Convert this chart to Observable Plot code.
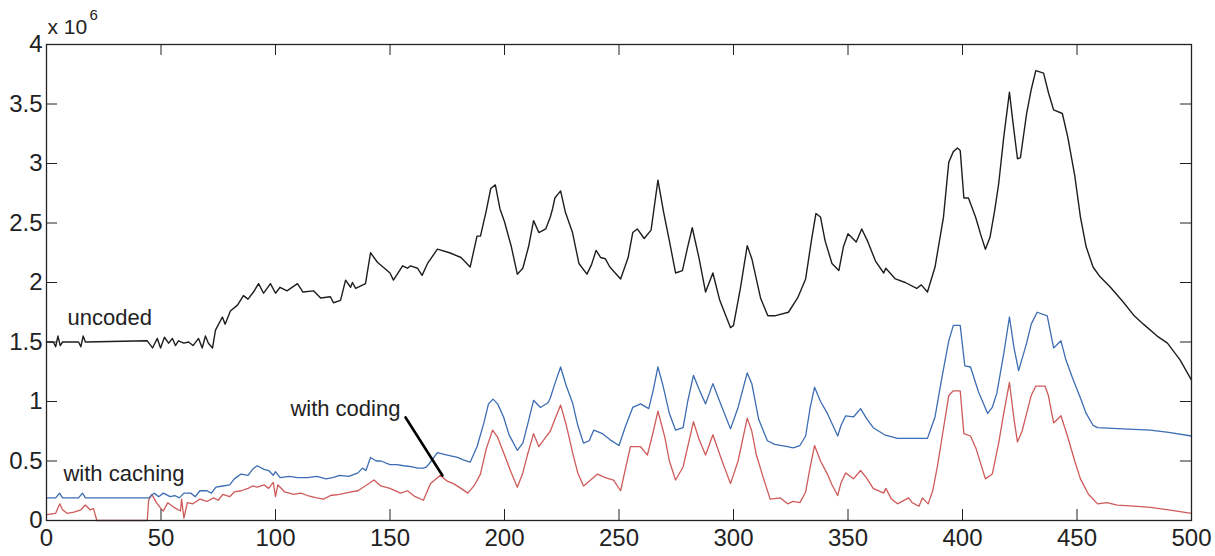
<!DOCTYPE html>
<html>
<head>
<meta charset="utf-8">
<script src="https://cdn.jsdelivr.net/npm/d3@7"></script>
<script src="https://cdn.jsdelivr.net/npm/@observablehq/plot@0.6"></script>
<style>
  html, body { margin: 0; padding: 0; background: #fff; }
  #chart svg { display: block; font-family: "Liberation Sans", Arial, Helvetica, sans-serif; }
</style>
</head>
<body>
<div id="chart"></div>
<script>
// ---------- data (values in units of 10^6) ----------
const xTicks = [0, 50, 100, 150, 200, 250, 300, 350, 400, 450, 500];
const yTicks = [0, 0.5, 1, 1.5, 2, 2.5, 3, 3.5, 4];

const uncodedX = [0,3,4,5,6,7,14,15,16,17,44,46.3,48.4,49.8,51.5,53.3,55,56.3,57.6,60,62,64,66.4,68,69.4,70.7,72.5,73.8,76.8,78,80.3,83.4,86,88,90.4,92.6,94.8,97.8,100,102,105,109.6,112,116.6,119.7,124,125.3,128.4,130.6,132.8,133.6,135,139.3,141.5,144.5,150,151.5,155.5,157.6,159,162,164,166.4,170.7,176,181,185,188,189.5,192,194,196,198,200,203,205.6,208,210.5,212.7,215,218,220,221,222,224.5,226.6,229.7,232.5,236,238,240,242,244,246,250.7,254,256,258,261,264,265.5,267,269.5,272,274.7,277.7,280,282,285,287.8,291,294,298.7,300,303,306,308,311.8,315,318,324,328,331.5,334,336,338,340,343,346,348,350,353.6,356,358.5,362,365.6,366.5,370.7,375,380,382,384.7,388,391.7,394,396,397.8,399,400.6,402.6,405.7,408,410,412,414,415.8,418,420.5,422,424,425.3,428,430,432,435.4,437.6,439.8,443.6,446,449,451.5,454,457,460,464.6,470,475,479,485,489.5,495,500];
const uncodedY = [1.5,1.5,1.46,1.55,1.47,1.5,1.5,1.46,1.55,1.5,1.51,1.45,1.53,1.45,1.54,1.49,1.53,1.47,1.51,1.49,1.5,1.47,1.53,1.45,1.55,1.49,1.45,1.6,1.71,1.65,1.76,1.81,1.89,1.86,1.92,1.99,1.91,1.99,1.91,1.96,1.93,1.99,1.92,1.93,1.87,1.88,1.83,1.85,2.02,1.96,2.0,1.95,1.99,2.25,2.17,2.08,2.02,2.14,2.12,2.14,2.12,2.06,2.16,2.28,2.25,2.21,2.13,2.39,2.39,2.6,2.79,2.82,2.62,2.51,2.3,2.07,2.12,2.3,2.52,2.42,2.45,2.55,2.62,2.71,2.77,2.59,2.42,2.16,2.07,2.15,2.27,2.21,2.2,2.13,2.03,2.21,2.42,2.45,2.37,2.44,2.65,2.86,2.59,2.35,2.08,2.1,2.3,2.46,2.2,1.92,2.08,1.85,1.62,1.64,1.95,2.31,2.2,1.87,1.72,1.72,1.75,1.87,2.03,2.35,2.58,2.55,2.35,2.16,2.1,2.3,2.41,2.34,2.45,2.35,2.18,2.08,2.12,2.03,2.0,1.95,1.98,1.92,2.13,2.55,3.01,3.1,3.13,3.11,2.71,2.71,2.55,2.4,2.28,2.38,2.6,2.83,3.22,3.6,3.35,3.04,3.05,3.42,3.62,3.78,3.76,3.59,3.45,3.42,3.22,2.9,2.55,2.3,2.13,2.05,1.96,1.84,1.72,1.65,1.55,1.49,1.35,1.18];

const cachingX = [0,4,5.7,7,14,15.7,17,44.6,47,49,51,54,56,58,60,63,65,67,70,72,74,77,80,82,85,88,90,92,95,97,99,100,102,106,109.6,114,118,122,125,128,132,136,138,139.5,141.5,144,146,150,153,156,160,162,164.6,166,168,170.7,175,179.5,182,185,188,191,193,195,197,199.6,202,205.6,208,210,212.7,215.7,219,220,222,224.5,227,229.7,232,234.5,237,239,242.8,246,250,253,256,259.4,263,265,267,269,272,274.7,278,280,282.5,285,287.8,291,295,298.7,302,306,308,311,314.8,318,323.6,326,329,331.5,333.5,335.4,338,341,345.5,347,349,352.4,355.5,358,361,366,371.6,378,384.7,388,391,394,396,399,401,403.5,407,411,413,415,418,420.5,422.5,424.5,428,430,432.6,437,439.8,443,445,448,451.5,454,457,459,470,482,490,500];
const cachingY = [0.19,0.19,0.23,0.19,0.19,0.23,0.19,0.19,0.23,0.2,0.23,0.2,0.21,0.19,0.23,0.23,0.2,0.25,0.25,0.23,0.28,0.29,0.3,0.35,0.39,0.38,0.43,0.46,0.43,0.42,0.38,0.41,0.36,0.37,0.36,0.36,0.37,0.35,0.36,0.38,0.37,0.4,0.44,0.42,0.53,0.5,0.5,0.47,0.47,0.46,0.45,0.44,0.44,0.45,0.5,0.57,0.55,0.53,0.51,0.49,0.62,0.82,0.98,1.02,0.98,0.87,0.72,0.59,0.65,0.8,1.01,0.95,0.99,1.03,1.15,1.29,1.13,0.99,0.8,0.65,0.67,0.76,0.73,0.68,0.63,0.8,0.95,0.98,0.94,1.1,1.29,1.15,0.9,0.76,0.78,1.0,1.22,1.1,0.98,1.15,0.95,0.77,0.95,1.24,1.15,0.85,0.67,0.64,0.62,0.61,0.63,0.71,0.95,1.12,1.0,0.9,0.71,0.8,0.88,0.87,0.94,0.86,0.78,0.72,0.69,0.69,0.69,0.87,1.2,1.51,1.64,1.64,1.3,1.29,1.08,0.9,0.95,1.07,1.4,1.71,1.45,1.26,1.49,1.65,1.75,1.72,1.45,1.51,1.36,1.2,1.03,0.9,0.8,0.78,0.77,0.76,0.74,0.71];

const codingX = [0,4,5.8,7,9,12,15,17,19,20.5,22,44,44.6,46,48,50,51,53,55.7,58.5,59,60,61.5,64,67,70,73,75,77,80,82,85,88,90,92,95,97,99,100,101,104,108,111,114,118,121,124,128,133,136,140,143,146,150,154.6,157.6,161,164.6,167.7,170.7,172,175,177.7,181,184,187,189.5,192,194.8,197,200,203,205.6,208,210,212.7,215,218,220,222,224.5,227,230,232,234.5,237,240.6,244,247.6,250.7,253,255,259.4,262.4,265,267,270,272,274.7,278,282.5,285,287.8,291,295,298.7,302,306,308,310,313,316,320.5,323.6,326,329,331.5,333.5,335.4,338,341,343,345.5,347,349,352.4,355.5,358,361,365.6,366.5,369,371.6,376.5,378,381,382.5,385,387,389,391.5,394,396,399,400.6,403.5,406,410,413,415.8,418,420.5,422.5,424,426,428,430,432,436,437.5,439.8,443,446,449,451.5,455,459,463,467.6,475,482,490,500];
const codingY = [0.05,0.06,0.14,0.09,0.06,0.07,0.09,0.13,0.09,0.1,0.0,0.0,0.17,0.22,0.15,0.1,0.08,0.15,0.11,0.08,0.18,0.02,0.15,0.14,0.18,0.16,0.19,0.17,0.22,0.2,0.24,0.25,0.27,0.29,0.28,0.3,0.27,0.32,0.2,0.3,0.24,0.22,0.23,0.21,0.19,0.18,0.21,0.22,0.24,0.25,0.3,0.34,0.29,0.27,0.23,0.25,0.2,0.17,0.31,0.36,0.38,0.33,0.31,0.27,0.23,0.3,0.39,0.6,0.76,0.7,0.55,0.4,0.28,0.4,0.55,0.73,0.62,0.7,0.75,0.85,0.97,0.8,0.55,0.4,0.29,0.33,0.39,0.36,0.34,0.25,0.45,0.62,0.62,0.55,0.75,0.92,0.7,0.5,0.34,0.45,0.83,0.68,0.55,0.72,0.5,0.31,0.5,0.86,0.75,0.55,0.36,0.18,0.19,0.14,0.16,0.15,0.24,0.45,0.63,0.5,0.39,0.3,0.21,0.32,0.4,0.35,0.42,0.36,0.27,0.23,0.27,0.18,0.14,0.19,0.15,0.12,0.19,0.14,0.25,0.45,0.75,1.05,1.09,1.09,0.73,0.71,0.6,0.35,0.39,0.65,0.9,1.16,0.85,0.66,0.75,0.9,1.05,1.13,1.13,1.05,0.82,0.88,0.7,0.5,0.35,0.22,0.14,0.15,0.13,0.12,0.11,0.09,0.06];

// annotations (data coordinates)
const labelText = ["uncoded", "with caching", "with coding"];
const labelX = [9.2, 7.4, 106.5];
const labelY = [1.64, 0.336, 0.88];
const pointerX = [156.8, 172.9];
const pointerY = [0.866, 0.378];

// ---------- build ----------
const zip = (xs, ys) => xs.map((x, i) => ({x, y: ys[i]}));
const uncoded = zip(uncodedX, uncodedY);
const caching = zip(cachingX, cachingY);
const coding = zip(codingX, codingY);
const labels = labelText.map((t, i) => ({t, x: labelX[i], y: labelY[i]}));
const pointer = zip(pointerX, pointerY);

const W = 1215, H = 556;
const mL = 46, mR = 24, mT = 44, mB = 36;
const innerW = W - mL - mR, innerH = H - mT - mB;
const tick = 11;
const ink = "#222";

const chart = Plot.plot({
  width: W, height: H,
  marginLeft: mL, marginRight: mR, marginTop: mT, marginBottom: mB,
  style: {fontFamily: '"Liberation Sans", Arial, Helvetica, sans-serif', color: ink, background: "#fff"},
  x: {domain: [0, 500]},
  y: {domain: [0, 4]},
  marks: [
    Plot.line(coding, {x: "x", y: "y", stroke: "#cf5a5a", strokeWidth: 1.3}),
    Plot.line(caching, {x: "x", y: "y", stroke: "#3c6db2", strokeWidth: 1.3}),
    Plot.line(uncoded, {x: "x", y: "y", stroke: "#1e1e1e", strokeWidth: 1.4}),
    Plot.frame({stroke: ink, strokeWidth: 1.3}),
    Plot.ruleX(xTicks, {x: d => d, insetTop: innerH - tick, stroke: ink}),
    Plot.ruleX(xTicks, {x: d => d, insetBottom: innerH - tick, stroke: ink}),
    Plot.ruleY(yTicks, {y: d => d, insetRight: innerW - tick, stroke: ink}),
    Plot.ruleY(yTicks, {y: d => d, insetLeft: innerW - tick, stroke: ink}),
    Plot.axisX({ticks: xTicks, tickSize: 0, tickPadding: 8, fontSize: 24, label: null, tickFormat: d => String(d)}),
    Plot.axisY({ticks: yTicks, tickSize: 0, tickPadding: 4, fontSize: 24, label: null, tickFormat: d => String(d)}),
    Plot.line(pointer, {x: "x", y: "y", stroke: "#000", strokeWidth: 2.6}),
    Plot.text(labels, {x: "x", y: "y", text: "t", textAnchor: "start", lineAnchor: "bottom", fontSize: 22, fill: ink}),
    Plot.text([{x: 0, y: 4}], {x: "x", y: "y", text: () => "x 10", textAnchor: "start", lineAnchor: "bottom", dx: 1, dy: -11, fontSize: 21, fill: ink}),
    Plot.text([{x: 0, y: 4}], {x: "x", y: "y", text: () => "6", textAnchor: "start", lineAnchor: "bottom", dx: 43, dy: -25, fontSize: 15, fill: ink})
  ]
});
document.getElementById("chart").appendChild(chart);
</script>
</body>
</html>
